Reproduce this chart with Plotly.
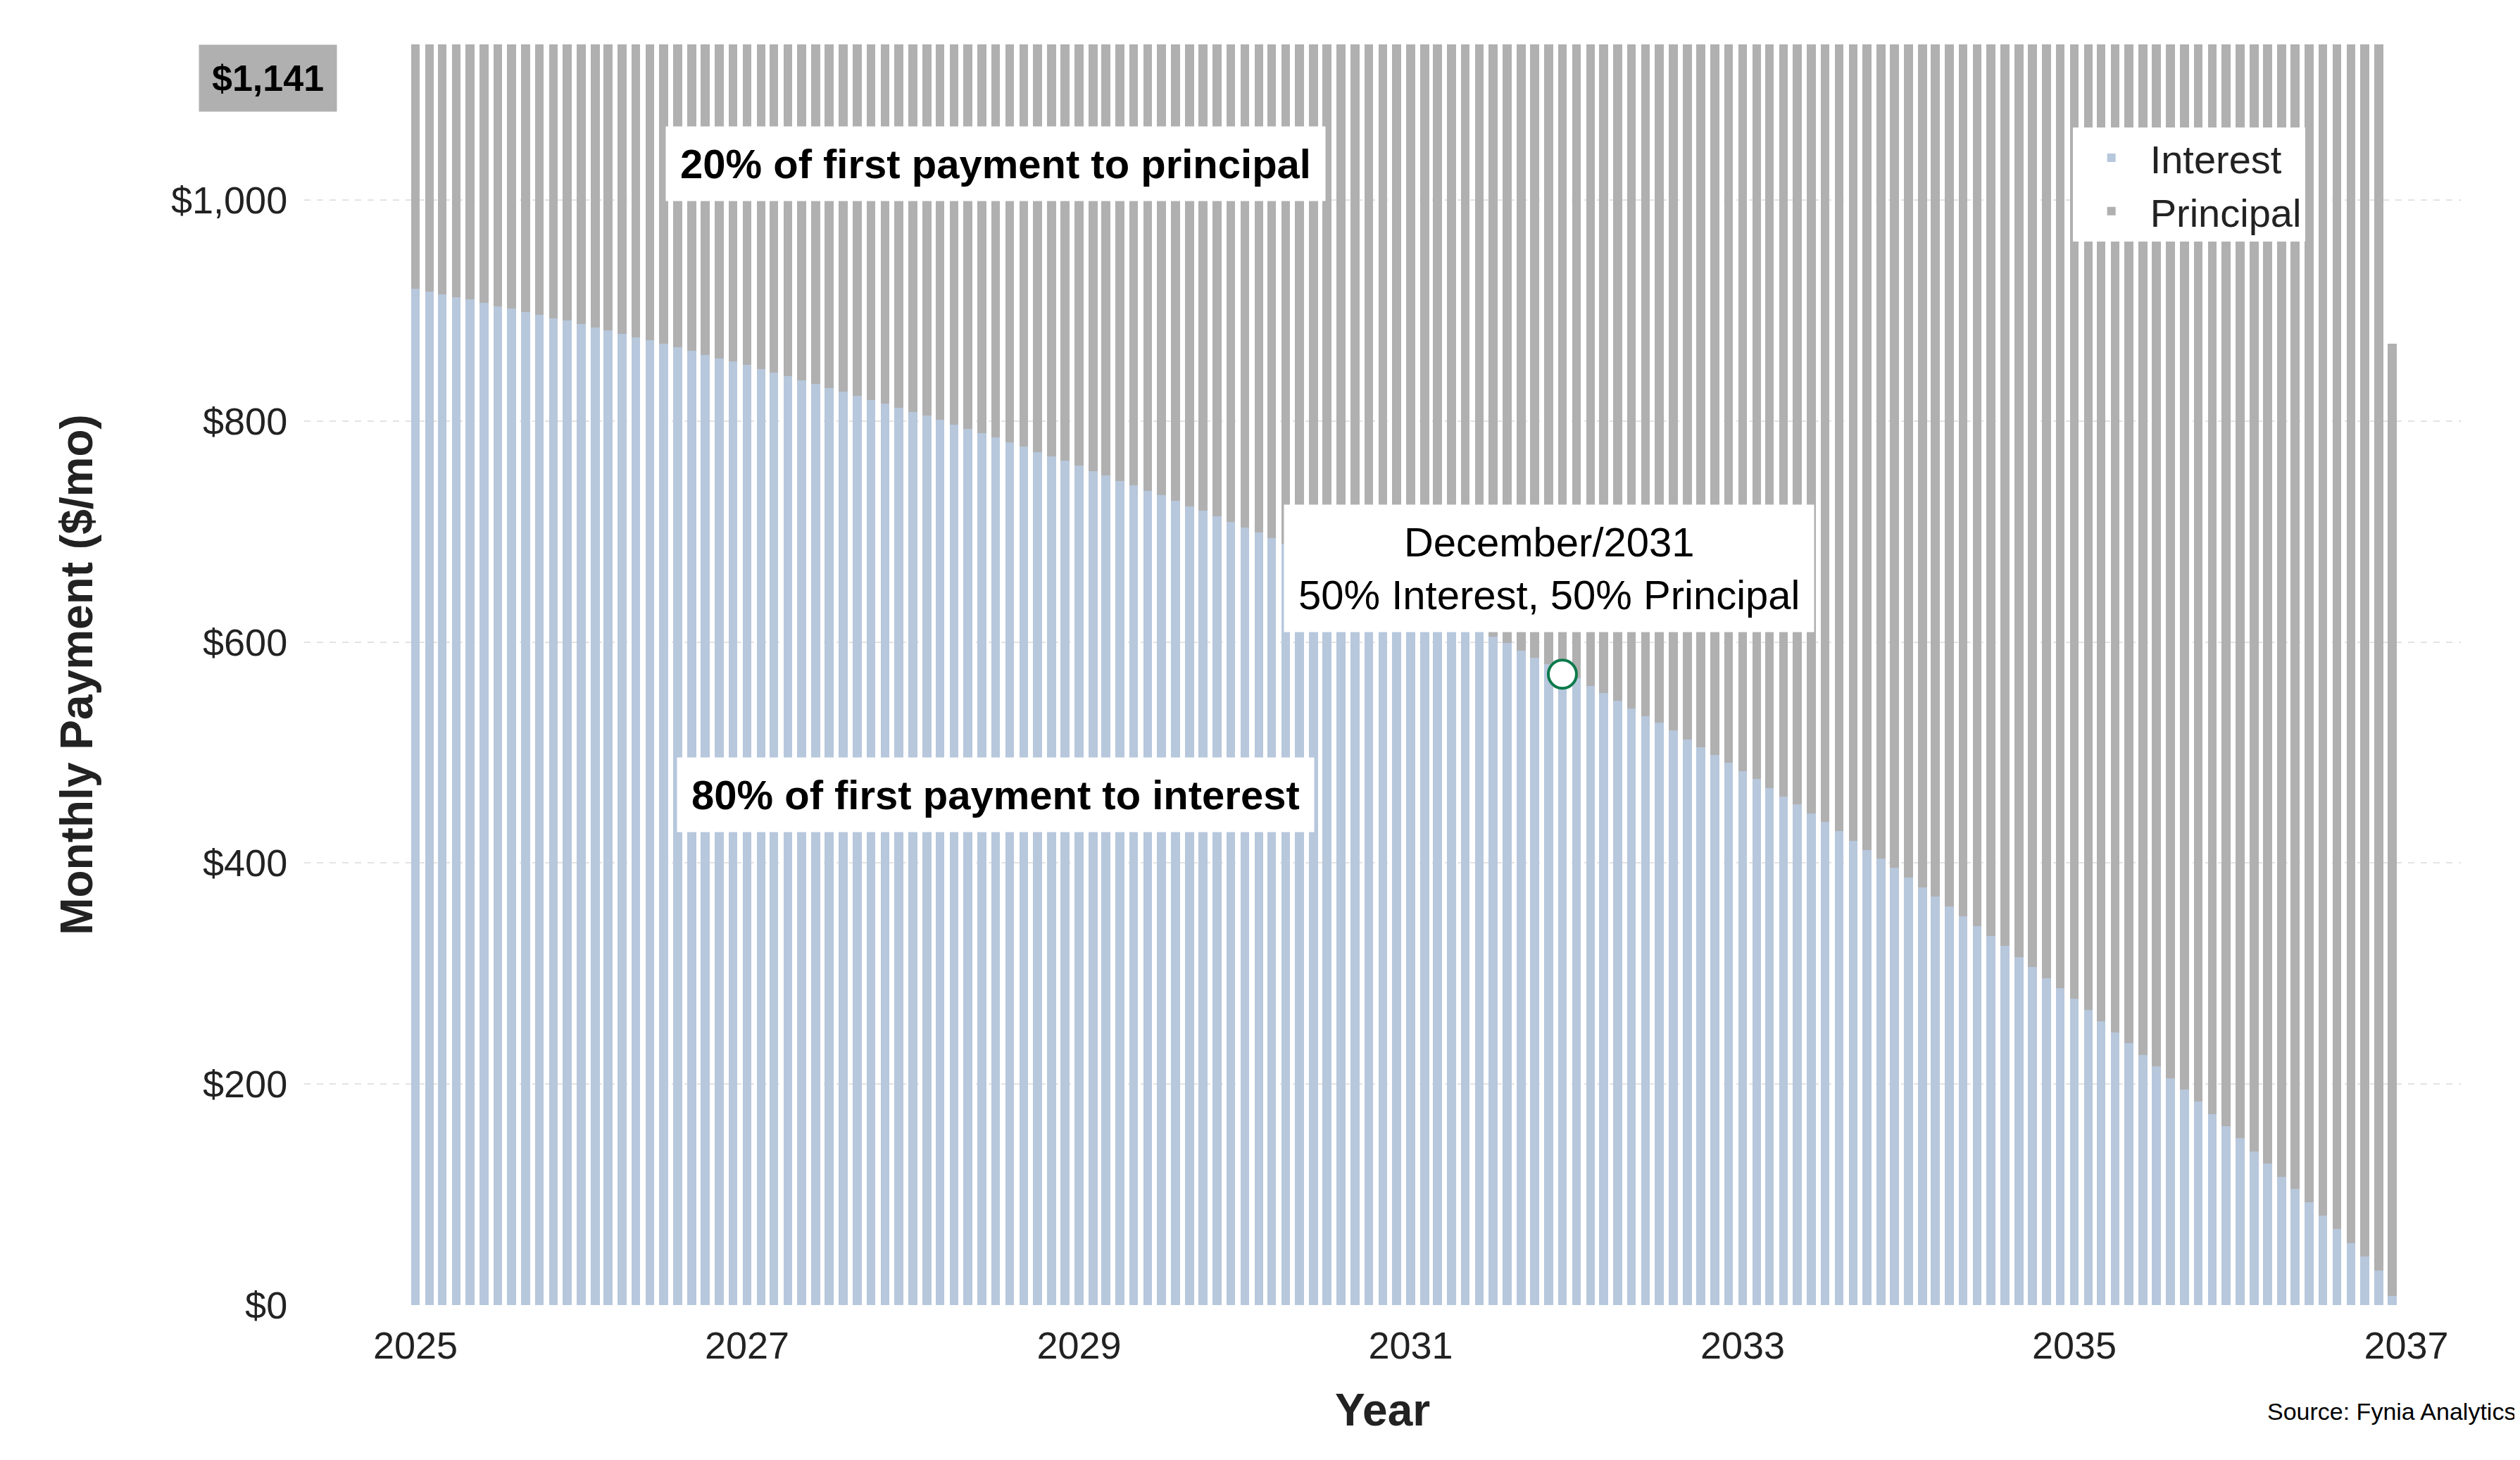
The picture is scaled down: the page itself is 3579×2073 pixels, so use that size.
import plotly.graph_objects as go
import pandas as pd

months = pd.date_range("2025-01-01", periods=144, freq="MS")
interest = [920,917,915,912,910,907,904,902,899,896,893,891,
            888,885,882,879,876,873,870,867,864,860,857,854,
            851,847,844,841,837,834,830,827,823,819,816,812,
            808,805,801,797,793,789,785,781,777,772,768,764,
            760,755,751,746,742,737,733,728,723,719,714,709,
            704,699,694,689,684,678,673,668,662,657,651,646,
            640,634,629,623,617,611,605,599,592,586,580,573,
            567,560,554,547,540,533,527,520,512,505,498,491,
            483,476,468,460,453,445,437,429,420,412,404,396,
            387,378,370,361,352,343,334,325,315,306,296,287,
            277,267,257,247,237,226,216,205,195,184,173,162,
            151,139,128,116,105,93,81,69,56,44,31,8]
totals = [1141]*143 + [870]
principal = [t - i for t, i in zip(totals, interest)]

fig = go.Figure()
fig.add_bar(x=months, y=interest, name="Interest", marker_color="#b7c7dc", marker_line_width=0)
fig.add_bar(x=months, y=principal, name="Principal", marker_color="#b0b0b0", marker_line_width=0)
fig.add_scatter(x=[pd.Timestamp("2031-12-01")], y=[571], mode="markers", showlegend=False,
                marker=dict(size=40, color="white", line=dict(color="#0b7a4b", width=4)))

font = "Arial, Liberation Sans, sans-serif"
ann = []
ann.append(dict(x="2028-07-01", y=1033, text="<b>20% of first payment to principal</b>", showarrow=False,
                bgcolor="white", borderpad=20, font=dict(size=58, color="black")))
ann.append(dict(x="2028-07-01", y=462, text="<b>80% of first payment to interest</b>", showarrow=False,
                bgcolor="white", borderpad=20, font=dict(size=58, color="black")))
ann.append(dict(x="2031-11-01", y=667, text="December/2031<br>50% Interest, 50% Principal", showarrow=False,
                bgcolor="white", borderpad=20, font=dict(size=58, color="black")))
ann.append(dict(xref="paper", x=-0.049, y=1141, yanchor="top", text="<b>$1,141</b>", showarrow=False,
                bgcolor="#b0b0b0", borderpad=18, font=dict(size=52, color="black")))
ann.append(dict(xref="paper", yref="paper", x=1.026, y=-0.096, xanchor="right", text="Source: Fynia Analytics",
                showarrow=False, font=dict(size=34, color="black")))

fig.update_layout(
    width=3579, height=2073, barmode="stack", bargap=0.3,
    plot_bgcolor="white", paper_bgcolor="white",
    margin=dict(l=424, r=92, t=55, b=228),
    font=dict(family=font, size=54, color="#222"),
    annotations=ann,
    legend=dict(x=0.82, y=0.934, xanchor="left", yanchor="top", bgcolor="white", traceorder="normal",
                font=dict(size=56), borderwidth=0, itemwidth=100),
    xaxis=dict(range=["2024-05-01", "2037-05-01"], tickvals=[f"{y}-01-01" for y in range(2025, 2038, 2)],
               ticktext=[str(y) for y in range(2025, 2038, 2)], showgrid=False, showline=False,
               title=dict(text="<b>Year</b>", font=dict(size=64), standoff=40), ticks="outside", ticklen=10,
               tickcolor="white"),
    yaxis=dict(range=[0, 1141], tickvals=[0, 200, 400, 600, 800, 1000],
               ticktext=["$0", "$200", "$400", "$600", "$800", "$1,000"],
               showgrid=True, gridcolor="#e3e3e3", griddash="dash", gridwidth=2, zeroline=False,
               title=dict(text="<b>Monthly Payment ($/mo)</b>", font=dict(size=64), standoff=90),
               ticks="outside", ticklen=12, tickcolor="white"),
)
fig.write_html("out.html")
